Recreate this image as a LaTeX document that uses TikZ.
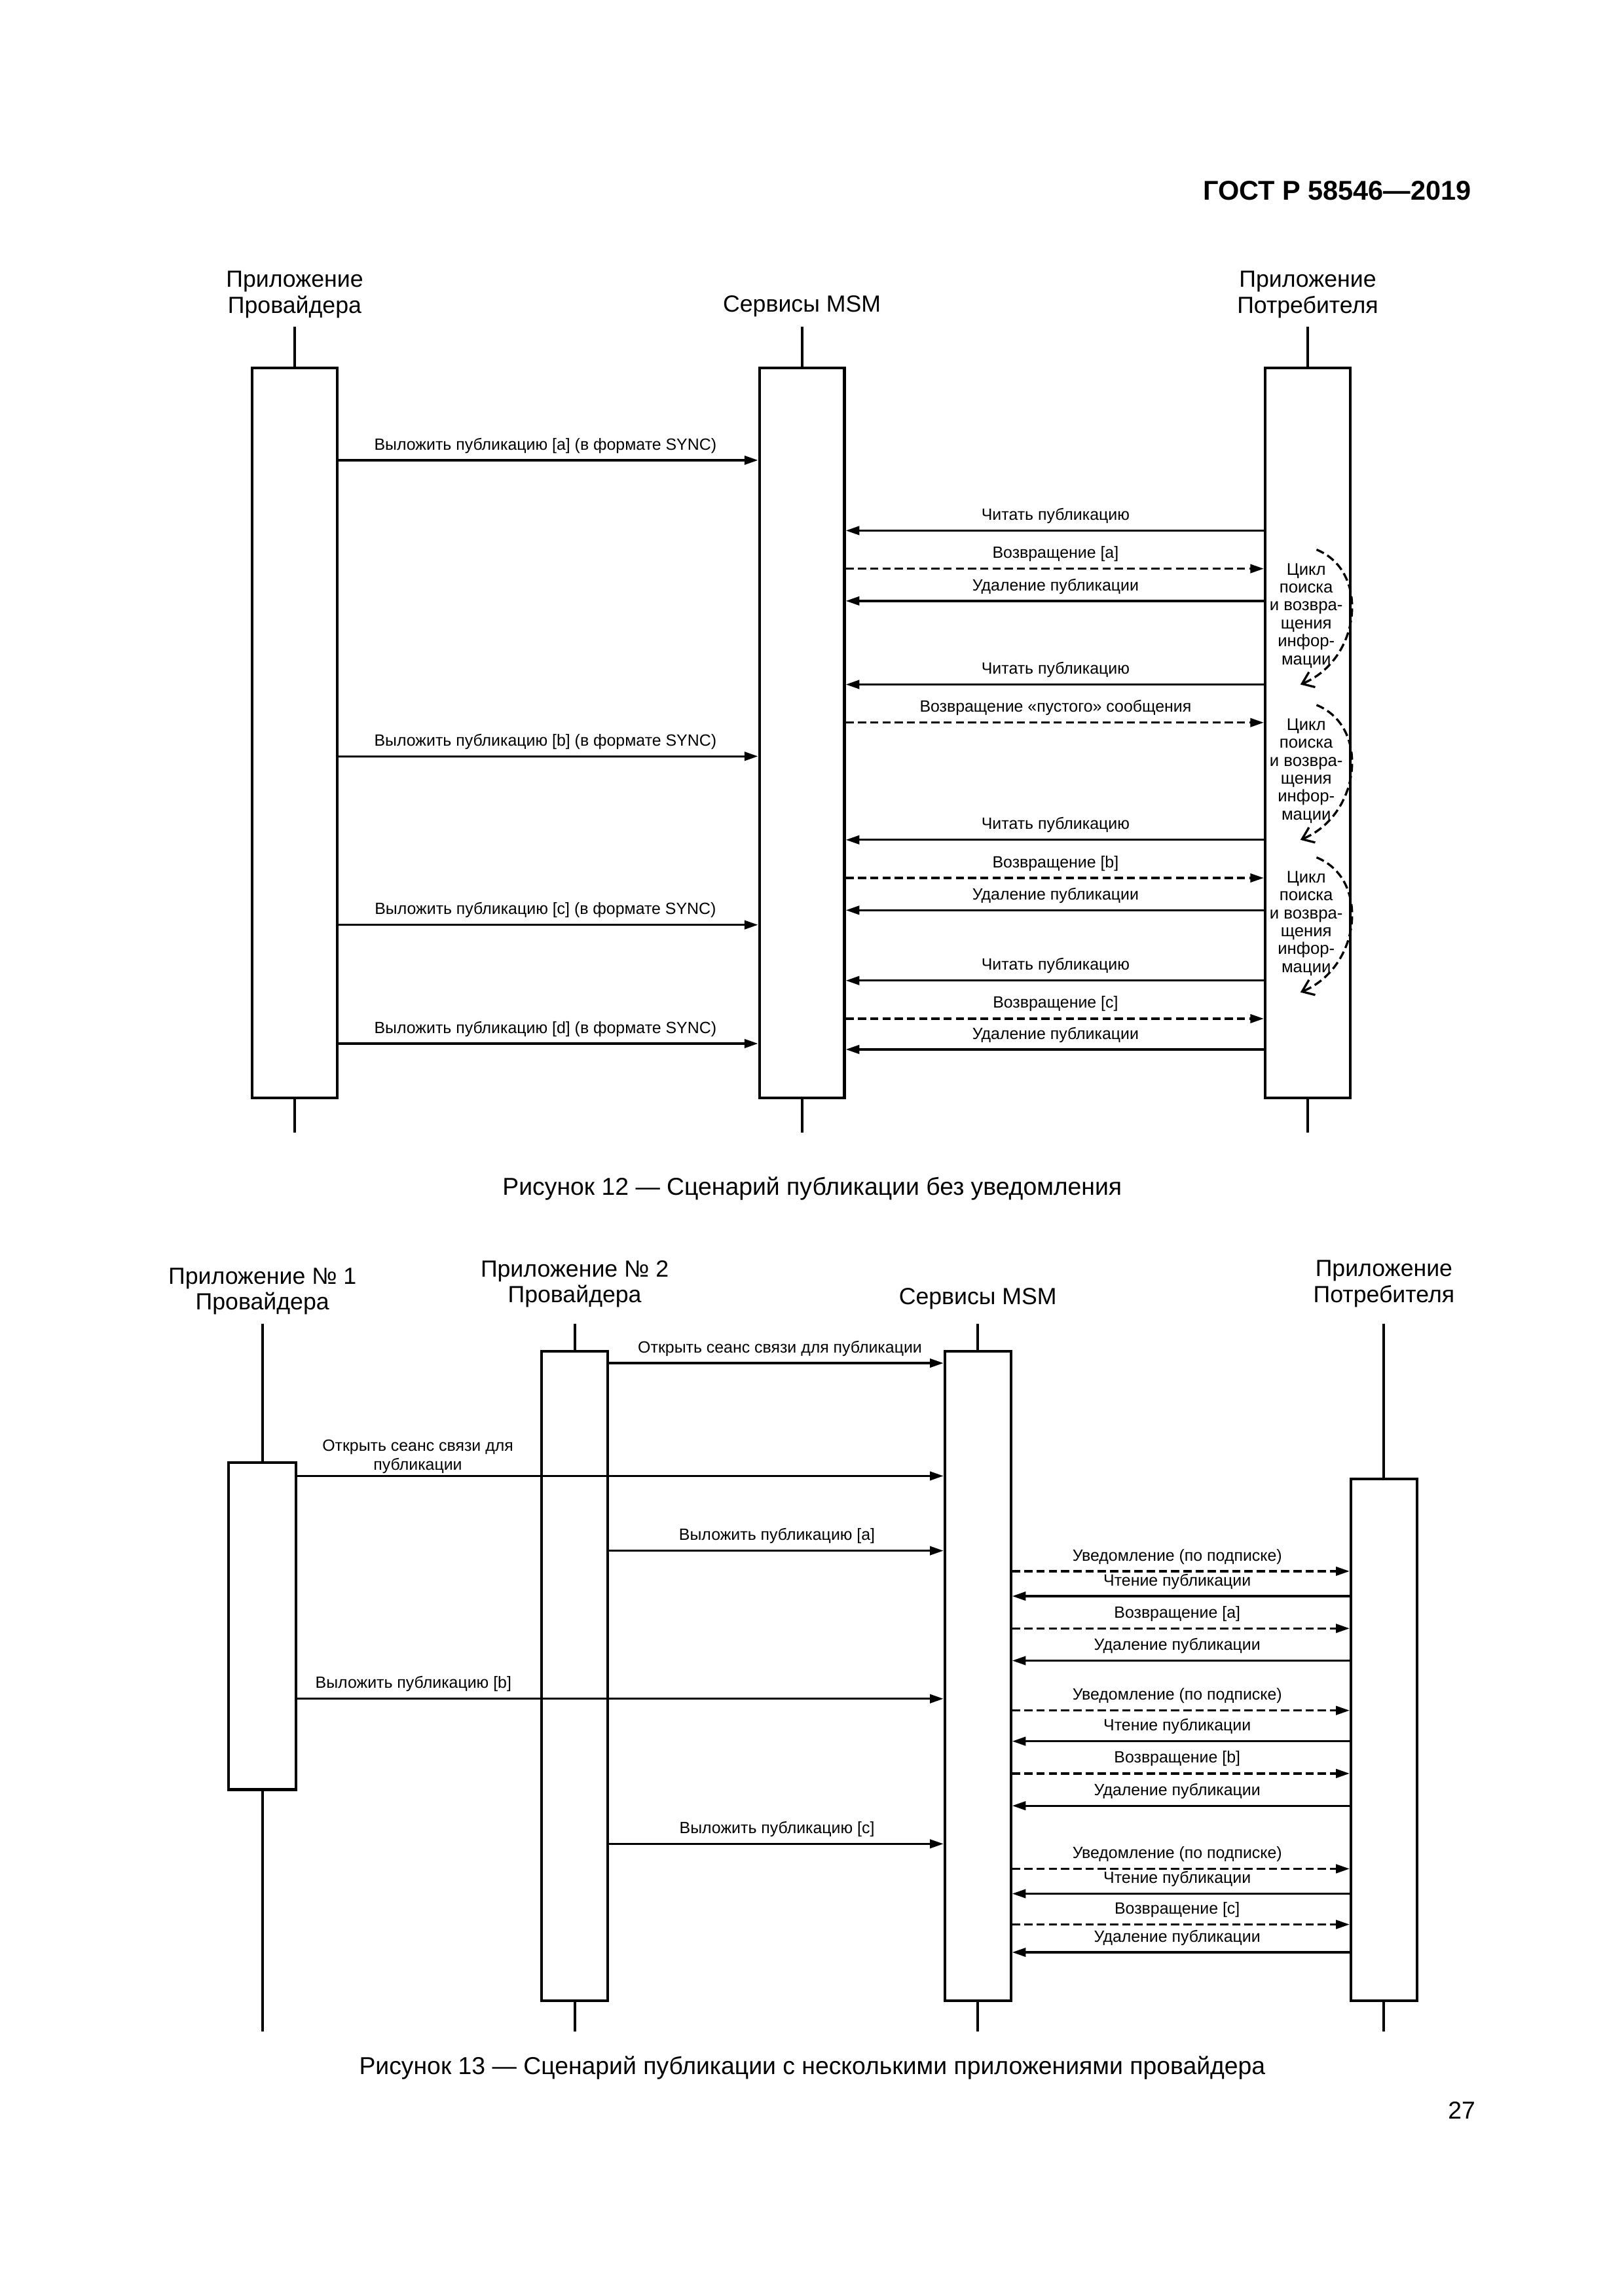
\documentclass[tikz,border=0pt]{standalone}
\usepackage{fontspec}
\setmainfont{Liberation Sans}
\usetikzlibrary{arrows.meta}

\tikzset{
  lbox/.style={draw, line width=1pt, inner sep=0pt},
  life/.style={line width=1pt},
  msg/.style={line width=0.8pt, -{Triangle[length=5pt,width=3.2pt]}},
  ret/.style={msg, dash pattern=on 3pt off 1.5pt},
  loop/.style={line width=0.8pt, dash pattern=on 3pt off 1.5pt, -{Straight Barb[length=4pt,width=6pt]}},
  lbl/.style={font=\fontsize{6}{7}\selectfont, inner sep=0pt},
  ttl/.style={font=\fontsize{8.6}{9.6}\selectfont, align=center, inner sep=0pt},
  figcap/.style={font=\fontsize{9}{10}\selectfont, inner sep=0pt},
  cyc/.style={font=\fontsize{6.2}{6.6}\selectfont, align=center, inner sep=0pt}
}
% message: style, from, to, y, label x, label
\newcommand{\sendmsg}[6][msg]{%
  \draw[#1] (#2 |- 0,#4) -- (#3 |- 0,#4);
  \node[lbl] at (#5,#4-10) {#6};}

\begin{document}
\begin{tikzpicture}[x=0.01896cm, y=-0.01896cm]
\useasboundingbox (0,0) rectangle (1107.6,1566.5);

\node[anchor=east, font=\bfseries\fontsize{10}{12}\selectfont] at (1010,130) {ГОСТ Р 58546—2019};

% Figure 12
\node[ttl] at (201,201) {Приложение\\Провайдера};
\node[ttl] at (547,209) {Сервисы MSM};
\node[ttl] at (892,201) {Приложение\\Потребителя};

\node[lbox, minimum width=58*0.01896cm, minimum height=498*0.01896cm] (prov) at (201,500) {};
\node[lbox, minimum width=58*0.01896cm, minimum height=498*0.01896cm] (msm) at (547,500) {};
\node[lbox, minimum width=58*0.01896cm, minimum height=498*0.01896cm] (cons) at (892,500) {};
\foreach \b in {prov,msm,cons}{
  \draw[life] (\b.north) -- +(0,-27);
  \draw[life] (\b.south) -- +(0,23);
}

\sendmsg{prov.east}{msm.west}{314}{372}{Выложить публикацию [a] (в формате SYNC)}
\sendmsg{cons.west}{msm.east}{362}{720}{Читать публикацию}
\sendmsg[ret]{msm.east}{cons.west}{388}{720}{Возвращение [a]}
\sendmsg{cons.west}{msm.east}{410}{720}{Удаление публикации}
\sendmsg{cons.west}{msm.east}{467}{720}{Читать публикацию}
\sendmsg[ret]{msm.east}{cons.west}{493}{720}{Возвращение «пустого» сообщения}
\sendmsg{prov.east}{msm.west}{516}{372}{Выложить публикацию [b] (в формате SYNC)}
\sendmsg{cons.west}{msm.east}{573}{720}{Читать публикацию}
\sendmsg[ret]{msm.east}{cons.west}{599}{720}{Возвращение [b]}
\sendmsg{cons.west}{msm.east}{621}{720}{Удаление публикации}
\sendmsg{prov.east}{msm.west}{631}{372}{Выложить публикацию [c] (в формате SYNC)}
\sendmsg{cons.west}{msm.east}{669}{720}{Читать публикацию}
\sendmsg[ret]{msm.east}{cons.west}{695}{720}{Возвращение [c]}
\sendmsg{prov.east}{msm.west}{712}{372}{Выложить публикацию [d] (в формате SYNC)}
\sendmsg{cons.west}{msm.east}{716}{720}{Удаление публикации}

% search loops
\foreach \t in {375,481,585}{
  \draw[loop] (898,\t) .. controls (935,\t+15) and (928,\t+75) .. (887,\t+92);
  \node[cyc] at (891,\t+45) {Цикл\\поиска\\и возвра-\\щения\\инфор-\\мации};
}

\node[figcap] at (554,811) {Рисунок 12 — Сценарий публикации без уведомления};

% Figure 13
\node[ttl] at (179,881) {Приложение № 1\\Провайдера};
\node[ttl] at (392,876) {Приложение № 2\\Провайдера};
\node[ttl] at (667,886) {Сервисы MSM};
\node[ttl] at (944,876) {Приложение\\Потребителя};

\draw[life] (179,903) -- (179,1386);
\draw[life] (392,903) -- (392,1386);
\draw[life] (667,903) -- (667,1386);
\draw[life] (944,903) -- (944,1386);
\node[lbox, fill=white, minimum width=46*0.01896cm, minimum height=223*0.01896cm] (app1) at (179,1109.5) {};
\node[lbox, fill=white, minimum width=45*0.01896cm, minimum height=443*0.01896cm] (app2) at (392,1143.5) {};
\node[lbox, fill=white, minimum width=45*0.01896cm, minimum height=443*0.01896cm] (srv) at (667,1143.5) {};
\node[lbox, fill=white, minimum width=45*0.01896cm, minimum height=356*0.01896cm] (user) at (944,1187) {};

\sendmsg{app2.east}{srv.west}{930}{532}{Открыть сеанс связи для публикации}
\draw[msg] (app1.east |- 0,1007) -- (srv.west |- 0,1007);
\node[lbl, align=center] at (285,994) {Открыть сеанс связи для\\публикации};
\sendmsg{app2.east}{srv.west}{1058}{530}{Выложить публикацию [a]}
\sendmsg[ret]{srv.east}{user.west}{1072}{803}{Уведомление (по подписке)}
\sendmsg{user.west}{srv.east}{1089}{803}{Чтение публикации}
\sendmsg[ret]{srv.east}{user.west}{1111}{803}{Возвращение [a]}
\sendmsg{user.west}{srv.east}{1133}{803}{Удаление публикации}
\sendmsg{app1.east}{srv.west}{1159}{282}{Выложить публикацию [b]}
\sendmsg[ret]{srv.east}{user.west}{1167}{803}{Уведомление (по подписке)}
\sendmsg{user.west}{srv.east}{1188}{803}{Чтение публикации}
\sendmsg[ret]{srv.east}{user.west}{1210}{803}{Возвращение [b]}
\sendmsg{user.west}{srv.east}{1232}{803}{Удаление публикации}
\sendmsg{app2.east}{srv.west}{1258}{530}{Выложить публикацию [c]}
\sendmsg[ret]{srv.east}{user.west}{1275}{803}{Уведомление (по подписке)}
\sendmsg{user.west}{srv.east}{1292}{803}{Чтение публикации}
\sendmsg[ret]{srv.east}{user.west}{1313}{803}{Возвращение [c]}
\sendmsg{user.west}{srv.east}{1332}{803}{Удаление публикации}

\node[figcap] at (554,1411) {Рисунок 13 — Сценарий публикации с несколькими приложениями провайдера};
\node[figcap] at (997,1440) {27};
\end{tikzpicture}
\end{document}
